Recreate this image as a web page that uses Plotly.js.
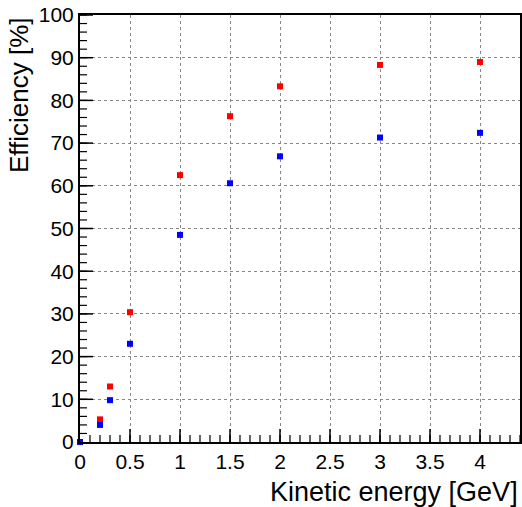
<!DOCTYPE html>
<html>
<head>
<meta charset="utf-8">
<script src="https://cdn.plot.ly/plotly-3.0.1.min.js"></script>
<style>html,body{margin:0;padding:0;background:#fff;}#chart{width:522px;height:507px;}</style>
</head>
<body>
<div id="chart"></div>
<script>
var energy = [0, 0.2, 0.3, 0.5, 1, 1.5, 2, 3, 4];
var effRed = [0, 5.3, 13.0, 30.4, 62.5, 76.3, 83.3, 88.3, 89.0];
var effBlue = [0, 4.0, 9.8, 23.0, 48.5, 60.6, 66.9, 71.3, 72.4];
var xTitle = "Kinetic energy [GeV]";
var yTitle = "Efficiency [%]";
var xRange = [0, 4.4];
var yRange = [0, 100];
var xMajorStep = 0.5, xMinorStep = 0.1;
var yMajorStep = 10, yMinorStep = 2;

var fontFam = "Liberation Sans, Arial, Helvetica, sans-serif";
var W = 522, H = 507, M = {l: 80, r: 2, t: 15, b: 65};
var plotW = W - M.l - M.r, plotH = H - M.t - M.b;

// inside tick marks (ROOT style) as line traces; pixel lengths converted to axis units
function tickTrace(axis, step, maxVal, lenPx, w) {
  var xs = [], ys = [];
  var n = Math.round(maxVal / step);
  for (var i = 1; i <= n; i++) {
    var v = +(i * step).toFixed(6);
    if (axis === 'x') {
      var dy = lenPx / plotH * (yRange[1] - yRange[0]);
      xs.push(v, v, null); ys.push(yRange[0], yRange[0] + dy, null);
    } else {
      var dx = lenPx / plotW * (xRange[1] - xRange[0]);
      ys.push(v, v, null); xs.push(xRange[0], xRange[0] + dx, null);
    }
  }
  return {x: xs, y: ys, type: 'scatter', mode: 'lines', hoverinfo: 'skip', showlegend: false,
          line: {color: '#000', width: w}};
}

var traces = [
  tickTrace('x', xMinorStep, xRange[1], 7, 1.2),
  tickTrace('x', xMajorStep, xRange[1], 13, 1.5),
  tickTrace('y', yMinorStep, yRange[1], 7, 1.2),
  tickTrace('y', yMajorStep, yRange[1], 13, 1.5),
  {x: energy, y: effRed, type: 'scatter', mode: 'markers', cliponaxis: false,
   marker: {symbol: 'square', size: 6, color: '#ff0000'}, showlegend: false},
  {x: energy, y: effBlue, type: 'scatter', mode: 'markers', cliponaxis: false,
   marker: {symbol: 'square', size: 6, color: '#0000ff'}, showlegend: false}
];

var layout = {
  width: W, height: H,
  margin: M,
  paper_bgcolor: '#fff', plot_bgcolor: '#fff',
  font: {family: fontFam, color: '#000', size: 20},
  xaxis: {
    range: xRange, dtick: xMajorStep, tick0: 0,
    ticks: '',
    showline: true, linecolor: '#000', linewidth: 2, mirror: true,
    showgrid: true, gridcolor: '#888', griddash: 'dot', gridwidth: 1,
    zeroline: false,
    tickfont: {size: 21, family: fontFam, color: '#000'}
  },
  yaxis: {
    range: yRange, dtick: yMajorStep, tick0: 0,
    ticks: '',
    showline: true, linecolor: '#000', linewidth: 2, mirror: true,
    showgrid: true, gridcolor: '#888', griddash: 'dot', gridwidth: 1,
    zeroline: false,
    tickfont: {size: 21, family: fontFam, color: '#000'}
  },
  annotations: [
    {text: xTitle, xref: 'paper', yref: 'paper', x: 1, y: 0, xanchor: 'right', yanchor: 'top',
     yshift: -33, showarrow: false, font: {size: 27, family: fontFam, color: '#000'}},
    {text: yTitle, xref: 'paper', yref: 'paper', x: 0, y: 1, xanchor: 'right', yanchor: 'top',
     xshift: -44, showarrow: false, textangle: -90, font: {size: 26, family: fontFam, color: '#000'}}
  ]
};

Plotly.newPlot('chart', traces, layout, {displayModeBar: false});
</script>
</body>
</html>
